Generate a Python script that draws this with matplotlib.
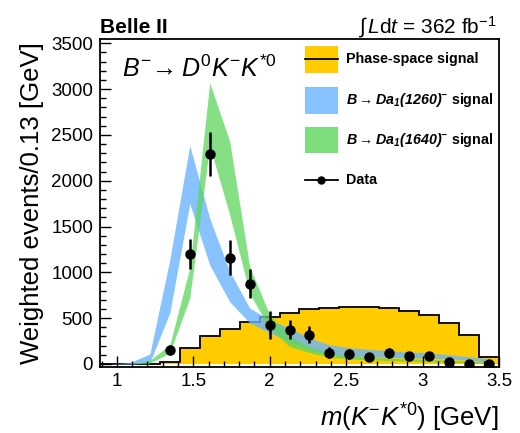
import numpy as np
import matplotlib
matplotlib.use('Agg')
import matplotlib.pyplot as plt
from matplotlib.patches import Rectangle
from matplotlib.lines import Line2D
from matplotlib.ticker import MultipleLocator

plt.rcParams['font.family'] = ['Liberation Sans', 'DejaVu Sans']
plt.rcParams['mathtext.fontset'] = 'custom'
plt.rcParams['mathtext.rm'] = 'Liberation Sans'
plt.rcParams['mathtext.it'] = 'Liberation Sans:italic'
plt.rcParams['mathtext.bf'] = 'Liberation Sans:bold'
plt.rcParams['mathtext.bfit'] = 'Liberation Sans:bold:italic'

# ---------------- data ----------------
x_min, x_max = 0.89, 3.50
n_bins = 20
edges = np.linspace(x_min, x_max, n_bins + 1)
centers = 0.5 * (edges[:-1] + edges[1:])

phase_space = [0, 0, 0, 18, 170, 303, 386, 457, 512, 555,
               595, 613, 620, 620, 613, 577, 530, 447, 321, 72]

a1_1260_low = [0, 0, 15, 560, 1750, 1080, 680, 450, 340, 245,
               155, 100, 80, 80, 72, 68, 62, 55, 42, 20]
a1_1260_high = [0, 15, 110, 1140, 2385, 1590, 1010, 612, 480, 395,
                285, 210, 178, 160, 145, 132, 122, 100, 80, 55]

a1_1640_low = [0, 0, 10, 120, 720, 2380, 1630, 770, 390, 190,
               125, 73, 55, 45, 38, 30, 25, 20, 12, 5]
a1_1640_high = [0, 0, 40, 210, 1050, 3070, 2430, 1065, 540, 300,
                190, 117, 88, 75, 65, 55, 48, 40, 30, 20]

data_first_bin = 3
data_vals = [150, 1200, 2290, 1160, 875, 425, 375, 320, 125, 108,
             75, 124, 85, 87, 27, 3, 0]
data_errs = [55, 160, 240, 190, 160, 150, 105, 95, 63, 55,
             40, 55, 48, 45, 30, 20, 15]

x_ticks = [1, 1.5, 2, 2.5, 3, 3.5]
y_ticks = [0, 500, 1000, 1500, 2000, 2500, 3000, 3500]

c_yellow = '#ffcc00'
c_blue = '#6ab4ff'
c_green = '#5cd65c'

# ---------------- figure ----------------
fig = plt.figure(figsize=(5.2, 4.33), dpi=100)
ax = fig.add_axes([0.1923, 0.1524, 0.7673, 0.7564])

ax.stairs(phase_space, edges, fill=True, color=c_yellow, lw=0)
ax.stairs(phase_space, edges, color='black', lw=1.3)

ax.fill_between(centers, a1_1260_low, a1_1260_high, color=c_blue, alpha=0.8, lw=0)
ax.fill_between(centers, a1_1640_low, a1_1640_high, color=c_green, alpha=0.75, lw=0)

xd = centers[data_first_bin:data_first_bin + len(data_vals)]
ax.errorbar(xd, data_vals, yerr=data_errs, fmt='o', color='black',
            ms=6.5, elinewidth=1.8, capsize=0)

ax.set_xlim(x_min, x_max)
ax.set_ylim(-33, 3541)
ax.set_xticks(x_ticks)
ax.set_xticklabels(['1', '1.5', '2', '2.5', '3', '3.5'])
ax.set_yticks(y_ticks)
ax.xaxis.set_minor_locator(MultipleLocator(0.1))
ax.yaxis.set_minor_locator(MultipleLocator(100))
ax.tick_params(which='both', direction='in', top=False, right=False,
               labelsize=13.5, width=1)
ax.tick_params(axis='y', which='major', length=8, pad=5)
ax.tick_params(axis='y', which='minor', length=4)
ax.tick_params(axis='x', which='major', length=8, pad=4)
ax.tick_params(axis='x', which='minor', length=4)
for s in ax.spines.values():
    s.set_linewidth(1.3)

ax.set_ylabel('Weighted events/0.13 [GeV]', fontsize=18.5)
ax.yaxis.set_label_coords(-0.14, 0.5)
ax.set_xlabel(r'$m(K^{-}K^{*0})$ [GeV]', fontsize=18.5, ha='right')
ax.xaxis.set_label_coords(1.0, -0.105)

ax.text(0.0, 1.02, 'Belle II', transform=ax.transAxes, fontsize=15,
        weight='bold', va='baseline', ha='left')
ax.text(0.995, 1.02, r'$\int\,L\mathrm{d}t$ = 362 fb$^{-1}$',
        transform=ax.transAxes, fontsize=15, va='baseline', ha='right')
ax.text(0.055, 0.885, r'$B^{-}\!\rightarrow D^{0}K^{-}K^{*0}$',
        transform=ax.transAxes, fontsize=18, va='baseline', ha='left')

# ---------------- legend (manual, ROOT style) ----------------
lx0, lx1 = 0.514, 0.596
lh = 0.082
tx = 0.617
rows = [0.940, 0.815, 0.693, 0.571]
labels = ['Phase-space signal',
          r'$\mathbfit{B\rightarrow Da_1(1260)^{-}}$ signal',
          r'$\mathbfit{B\rightarrow Da_1(1640)^{-}}$ signal',
          'Data']
ax.add_patch(Rectangle((lx0, rows[0] - lh / 2), lx1 - lx0, lh, transform=ax.transAxes,
                       facecolor=c_yellow, edgecolor='none', zorder=5))
ax.add_line(Line2D([lx0, lx1], [rows[0], rows[0]], transform=ax.transAxes,
                   color='black', lw=1.3, zorder=6))
ax.add_patch(Rectangle((lx0, rows[1] - lh / 2), lx1 - lx0, lh, transform=ax.transAxes,
                       facecolor=c_blue, alpha=0.8, edgecolor='none', zorder=5))
ax.add_patch(Rectangle((lx0, rows[2] - lh / 2), lx1 - lx0, lh, transform=ax.transAxes,
                       facecolor=c_green, alpha=0.8, edgecolor='none', zorder=5))
ax.add_line(Line2D([lx0, lx1], [rows[3], rows[3]], transform=ax.transAxes,
                   color='black', lw=1.3, zorder=6))
ax.add_line(Line2D([(lx0 + lx1) / 2], [rows[3]], transform=ax.transAxes,
                   color='black', marker='o', ms=5, zorder=6))
for r, lab in zip(rows, labels):
    ax.text(tx, r, lab, transform=ax.transAxes, fontsize=10.3, weight='bold',
            va='center', ha='left', zorder=7)

fig.savefig('out.png', dpi=100)
